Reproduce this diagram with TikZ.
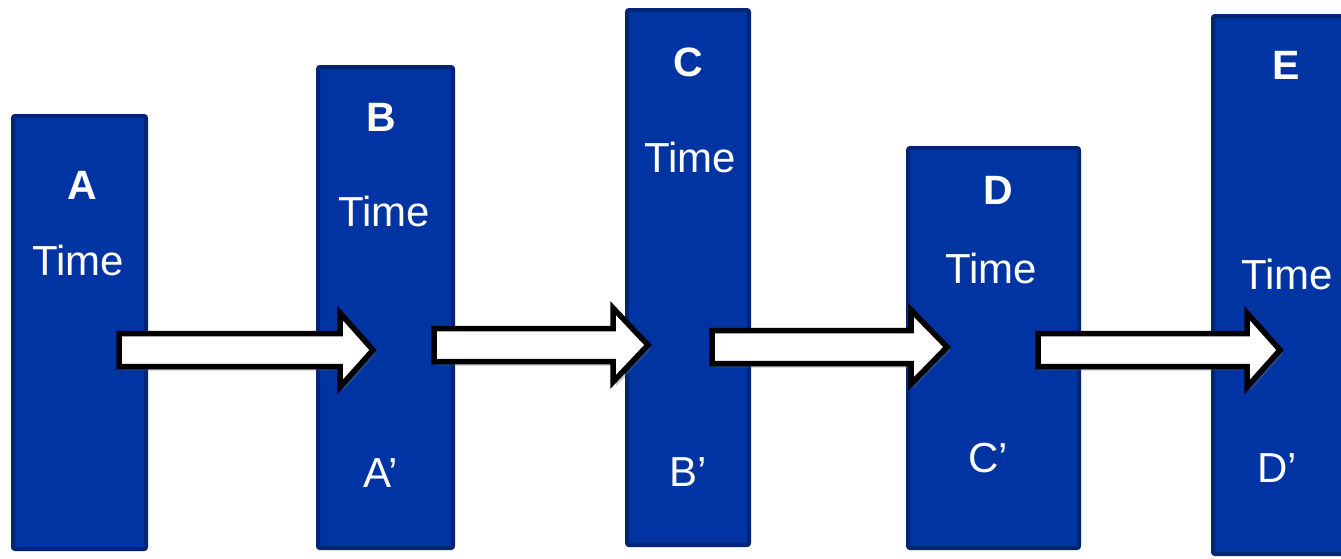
\documentclass[tikz,border=0pt]{standalone}
\usepackage{fontspec}
\setmainfont{Liberation Sans}
\usetikzlibrary{shadows}
\definecolor{barfill}{RGB}{0,52,162}
\definecolor{barline}{RGB}{0,38,115}
\tikzset{
  bar/.style={draw=barline, fill=barfill, line width=4pt, rounded corners=2pt, inner sep=0pt, anchor=north west},
  letter/.style={text=white, font=\fontsize{41}{41}\selectfont\bfseries, inner sep=0pt},
  timetxt/.style={text=white, font=\fontsize{42}{42}\selectfont, inner sep=0pt},
  blockarrow/.style={draw=black, fill=white, line width=5.5pt, line join=miter,
     drop shadow={shadow xshift=3pt, shadow yshift=-4pt, opacity=0.35, fill=black!60}}
}
\begin{document}
\begin{tikzpicture}[x=1pt,y=-1pt]
\useasboundingbox (0,0) rectangle (1341,558);
\clip (0,0) rectangle (1341,558);
% bars
\node[bar, minimum width=133pt, minimum height=433pt] (A) at (11,114) {};
\node[bar, minimum width=135pt, minimum height=481pt] (B) at (316,65) {};
\node[bar, minimum width=122pt, minimum height=535pt] (C) at (625,8) {};
\node[bar, minimum width=171pt, minimum height=400pt] (D) at (906,146) {};
\node[bar, minimum width=147pt, minimum height=538pt] (E) at (1211,14) {};
% labels
\node[letter] (la) at (82,185) {A};
\node[timetxt] (ta) at (78,260) {Time};
\node[letter] (lb) at (381,117) {B};
\node[timetxt] (tb) at (384,211) {Time};
\node[timetxt] (pa) at (381,473) {A’};
\node[letter] (lc) at (688,62) {C};
\node[timetxt] (tc) at (690,157) {Time};
\node[timetxt] (pb) at (688,472) {B’};
\node[letter] (ld) at (998,190) {D};
\node[timetxt] (td) at (991,268) {Time};
\node[timetxt] (pc) at (988,458) {C’};
\node[letter] (le) at (1286,65) {E};
\node[timetxt] (te) at (1287,274) {Time};
\node[timetxt] (pd) at (1277,468) {D’};
% arrows: left x, head start x, tip x, center y
\foreach \xl/\xh/\xt/\yc in {119/340/373/350, 434/613/648/345, 712/911/947/347, 1038/1247/1280/350}{
  \path[blockarrow] (\xl,\yc-16.5) -- (\xh,\yc-16.5) -- (\xh,\yc-37) -- (\xt,\yc)
     -- (\xh,\yc+37) -- (\xh,\yc+16.5) -- (\xl,\yc+16.5) -- cycle;
}
\end{tikzpicture}
\end{document}
